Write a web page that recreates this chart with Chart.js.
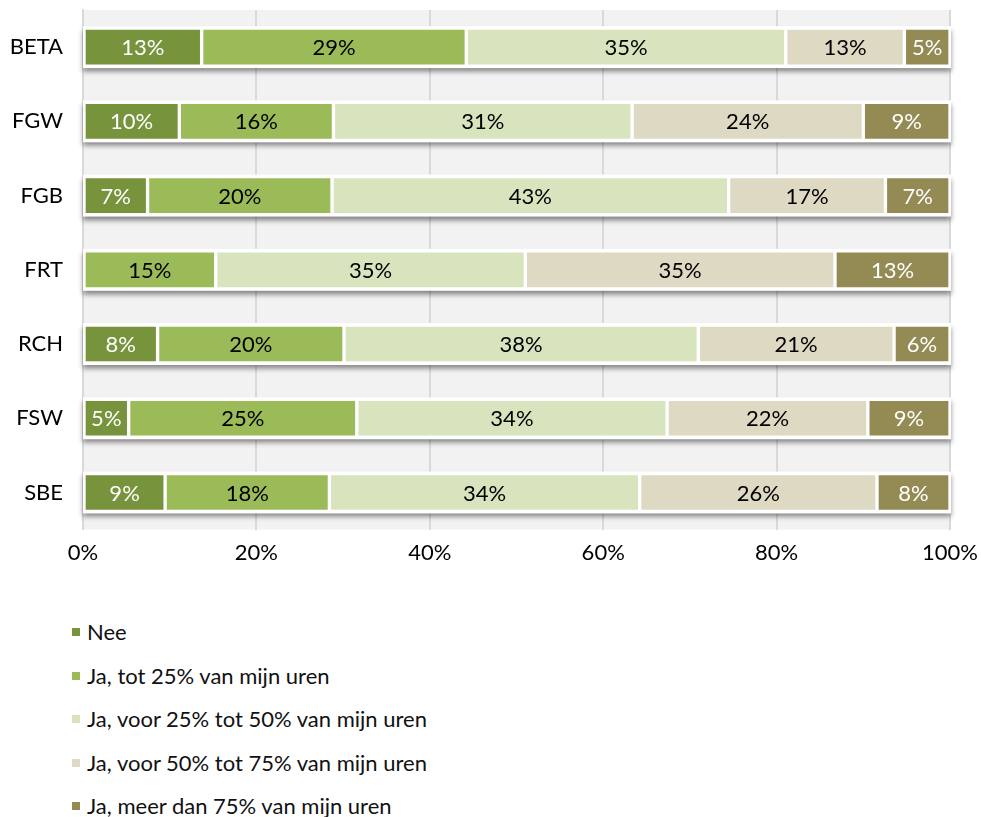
<!DOCTYPE html>
<html>
<head>
<meta charset="utf-8">
<script src="https://cdn.jsdelivr.net/npm/chart.js@4"></script>
<style>
  body { margin: 0; background: #fff; font-family: Lato, "Noto Sans", sans-serif; }
  #wrap { position: relative; width: 981px; height: 589px; }
  #legend { list-style: none; margin: 0; padding: 0; position: absolute; left: 72px; top: 614px; }
  #legend li { height: 43.5px; line-height: 36px; font-size: 22px; color: #111; white-space: nowrap; }
  #legend span.box { display: inline-block; width: 8px; height: 8px; margin-right: 7px; vertical-align: middle; position: relative; top: -2px; }
</style>
</head>
<body>
<div id="wrap"><canvas id="chart"></canvas></div>
<ul id="legend"></ul>
<script>
const categories = ['BETA', 'FGW', 'FGB', 'FRT', 'RCH', 'FSW', 'SBE'];
const seriesNames = [
  'Nee',
  'Ja, tot 25% van mijn uren',
  'Ja, voor 25% tot 50% van mijn uren',
  'Ja, voor 50% tot 75% van mijn uren',
  'Ja, meer dan 75% van mijn uren'
];
// percentages as printed in the bars
const nee      = [13, 10,  7,  0,  8,  5,  9];
const tot25    = [29, 16, 20, 15, 20, 25, 18];
const tot50    = [35, 31, 43, 35, 38, 34, 34];
const tot75    = [13, 24, 17, 35, 21, 22, 26];
const meer75   = [ 5,  9,  7, 13,  6,  9,  8];
const tickLabels = ['0%', '20%', '40%', '60%', '80%', '100%'];

const colors = ['#77933C', '#9BBB59', '#D7E4BD', '#DDD9C3', '#948A54'];
const labelColors = ['#fff', '#000', '#000', '#000', '#fff'];

const rawSeries = [nee, tot25, tot50, tot75, meer75];
// 100% stacked: each row scaled to its own total
const rowTotals = categories.map((c, i) => rawSeries.reduce((s, arr) => s + arr[i], 0));

const datasets = rawSeries.map((arr, k) => ({
  label: seriesNames[k],
  data: arr.map((v, i) => v / rowTotals[i] * 100),
  raw: arr,
  backgroundColor: colors[k],
  borderColor: '#fff',
  borderWidth: 2,
  borderSkipped: false,
  barThickness: 38
}));

const plotBg = {
  id: 'plotBg',
  beforeDraw(chart) {
    const { ctx, chartArea: a } = chart;
    ctx.save();
    ctx.fillStyle = '#F2F2F2';
    ctx.fillRect(a.left, a.top, a.right - a.left, a.bottom - a.top);
    ctx.restore();
  }
};

// white frame with soft shadow under each bar row
const barFrame = {
  id: 'barFrame',
  beforeDatasetsDraw(chart) {
    const { ctx, scales } = chart;
    const x0 = scales.x.getPixelForValue(0);
    const x1 = scales.x.getPixelForValue(100);
    ctx.save();
    categories.forEach((c, i) => {
      const y = scales.y.getPixelForValue(i);
      ctx.shadowColor = 'rgba(0,0,0,0.45)';
      ctx.shadowBlur = 5;
      ctx.shadowOffsetY = 4;
      ctx.fillStyle = '#fff';
      ctx.fillRect(x0, y - 21, x1 - x0 + 1, 42);
    });
    ctx.restore();
  }
};

const valueLabels = {
  id: 'valueLabels',
  afterDatasetsDraw(chart) {
    const { ctx } = chart;
    ctx.save();
    ctx.font = '22px Lato, "Noto Sans", sans-serif';
    ctx.textAlign = 'center';
    ctx.textBaseline = 'middle';
    chart.data.datasets.forEach((ds, k) => {
      chart.getDatasetMeta(k).data.forEach((bar, i) => {
        const v = ds.raw[i];
        if (!v) return;
        const p = bar.getCenterPoint();
        ctx.fillStyle = labelColors[k];
        ctx.fillText(v + '%', p.x, p.y + 1);
      });
    });
    ctx.restore();
  }
};

const chart = new Chart(document.getElementById('chart'), {
  type: 'bar',
  data: { labels: categories, datasets: datasets },
  options: {
    indexAxis: 'y',
    responsive: true,
    maintainAspectRatio: false,
    animation: false,
    layout: { padding: { top: 10, right: 31, left: 0, bottom: 13 } },
    plugins: {
      legend: { display: false },
      tooltip: { enabled: false }
    },
    scales: {
      x: {
        stacked: true,
        min: 0,
        max: 100,
        afterFit: s => { s.paddingLeft = 0; s.paddingRight = 0; },
        ticks: {
          stepSize: 20,
          padding: 10,
          color: '#000',
          font: { size: 22, family: 'Lato, "Noto Sans", sans-serif' },
          callback: (v, i) => tickLabels[i]
        },
        grid: { color: '#D9D9D9', lineWidth: 2, drawTicks: false },
        border: { display: false }
      },
      y: {
        stacked: true,
        afterFit: s => { s.width = 83; s.paddingTop = 0; s.paddingBottom = 0; },
        ticks: {
          padding: 20,
          color: '#000',
          font: { size: 22, family: 'Lato, "Noto Sans", sans-serif' }
        },
        grid: { display: false, drawTicks: false },
        border: { display: true, color: '#D9D9D9', width: 2 }
      }
    }
  },
  plugins: [plotBg, barFrame, valueLabels]
});

const legend = document.getElementById('legend');
chart.data.datasets.forEach(ds => {
  const li = document.createElement('li');
  li.innerHTML = `<span class="box" style="background:${ds.backgroundColor}"></span>${ds.label}`;
  legend.appendChild(li);
});
</script>
</body>
</html>
